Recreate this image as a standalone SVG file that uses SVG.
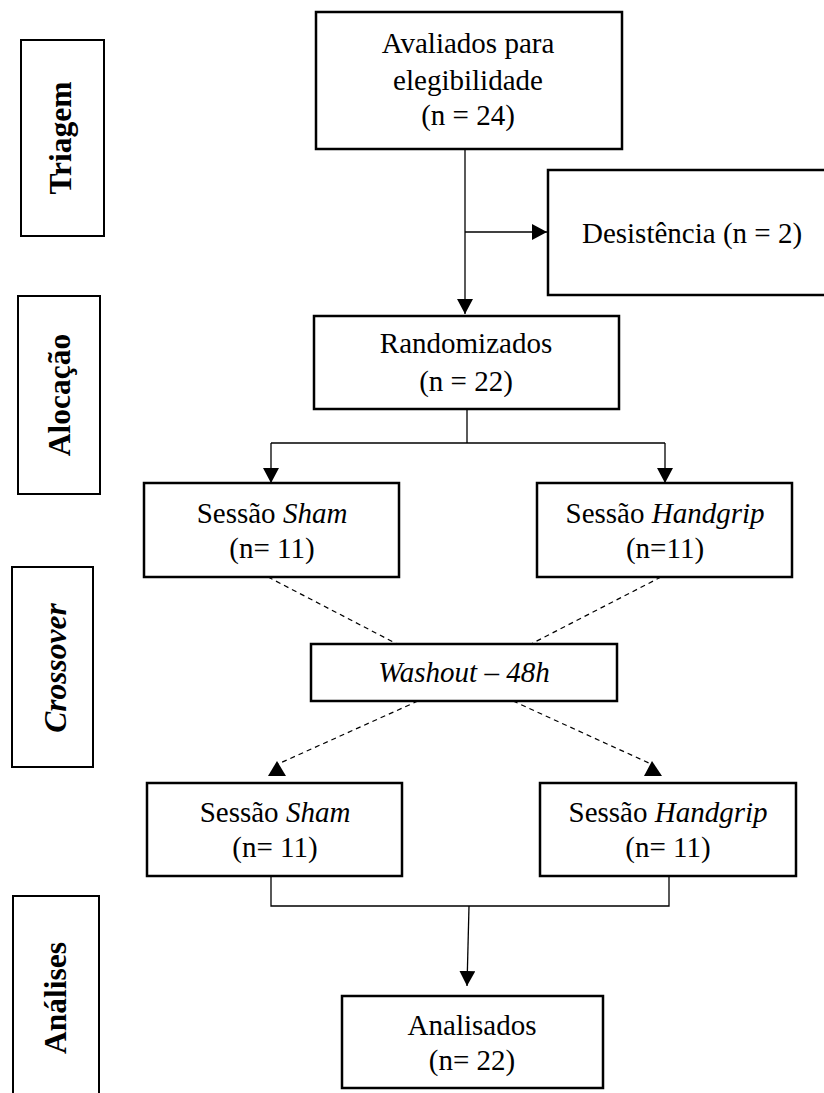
<svg xmlns="http://www.w3.org/2000/svg" width="824" height="1093" viewBox="0 0 824 1093">
<defs>
<style>
.box{fill:#fff;stroke:#000;stroke-width:2.5}
.side{fill:#fff;stroke:#000;stroke-width:2}
.ln{fill:none;stroke:#000;stroke-width:1.3}
.dash{fill:none;stroke:#000;stroke-width:1.2;stroke-dasharray:5 4}
.t{font-family:"Liberation Serif","Times New Roman",serif;font-size:29px;fill:#000;text-anchor:middle}
.s{font-family:"Liberation Serif","Times New Roman",serif;font-size:31.5px;font-weight:bold;fill:#000;text-anchor:middle}
.i{font-style:italic}
</style>
<marker id="ah" markerUnits="userSpaceOnUse" markerWidth="16" markerHeight="16" refX="15" refY="8" orient="auto">
<path d="M0,0 L15,8 L0,16 z" fill="#000"/>
</marker>
</defs>
<rect width="824" height="1093" fill="#fff"/>

<g id="lbl-triagem">
<rect class="side" x="21" y="40" width="83" height="196"/>
<text class="s" transform="translate(71,138) rotate(-90)">Triagem</text>
</g>
<g id="lbl-alocacao">
<rect class="side" x="18" y="296" width="82" height="198"/>
<text class="s" transform="translate(70,395) rotate(-90)">Alocação</text>
</g>
<g id="lbl-crossover">
<rect class="side" x="12" y="567" width="81" height="200"/>
<text class="s i" transform="translate(66,668) rotate(-90)">Crossover</text>
</g>
<g id="lbl-analises">
<rect class="side" x="13" y="896" width="86" height="210"/>
<text class="s" transform="translate(66,998) rotate(-90)">Análises</text>
</g>

<g id="connectors">
<line class="ln" x1="465" y1="150" x2="465" y2="314" marker-end="url(#ah)"/>
<line class="ln" x1="465" y1="232" x2="547" y2="232" marker-end="url(#ah)"/>
<polyline class="ln" points="467,409 467,443"/>
<polyline class="ln" points="271,443 665,443"/>
<line class="ln" x1="271" y1="443" x2="271" y2="483" marker-end="url(#ah)"/>
<line class="ln" x1="665" y1="443" x2="665" y2="483" marker-end="url(#ah)"/>
<line class="dash" x1="268" y1="577" x2="397" y2="644"/>
<line class="dash" x1="661" y1="577" x2="531" y2="644"/>
<line class="dash" x1="418" y1="701" x2="278" y2="764"/>
<polygon points="277,761 268,776 286,776" fill="#000"/>
<line class="dash" x1="513" y1="701" x2="651" y2="764"/>
<polygon points="652,761 644,776 662,776" fill="#000"/>
<polyline class="ln" points="271,876 271,906 669,906 669,876"/>
<line class="ln" x1="469" y1="906" x2="467" y2="986" marker-end="url(#ah)"/>
</g>

<g id="n-avaliados">
<rect class="box" x="316" y="12" width="306" height="137"/>
<text class="t" x="468" y="53">Avaliados para</text>
<text class="t" x="468" y="90">elegibilidade</text>
<text class="t" x="468" y="125">(n = 24)</text>
</g>
<g id="n-desistencia">
<rect class="box" x="548" y="170" width="290" height="125"/>
<text class="t" x="692" y="243">Desistência (n = 2)</text>
</g>
<g id="n-randomizados">
<rect class="box" x="314" y="316" width="305" height="93"/>
<text class="t" x="466" y="353">Randomizados</text>
<text class="t" x="466" y="391">(n = 22)</text>
</g>
<g id="n-sham1">
<rect class="box" x="144" y="483" width="255" height="94"/>
<text class="t" x="272" y="523">Sessão <tspan class="i">Sham</tspan></text>
<text class="t" x="272" y="558">(n= 11)</text>
</g>
<g id="n-handgrip1">
<rect class="box" x="537" y="483" width="255" height="94"/>
<text class="t" x="665" y="523">Sessão <tspan class="i">Handgrip</tspan></text>
<text class="t" x="665" y="558">(n=11)</text>
</g>
<g id="n-washout">
<rect class="box" x="311" y="644" width="306" height="57"/>
<text class="t i" x="464" y="682">Washout – 48h</text>
</g>
<g id="n-sham2">
<rect class="box" x="147" y="783" width="255" height="93"/>
<text class="t" x="275" y="822">Sessão <tspan class="i">Sham</tspan></text>
<text class="t" x="275" y="857">(n= 11)</text>
</g>
<g id="n-handgrip2">
<rect class="box" x="540" y="783" width="256" height="93"/>
<text class="t" x="668" y="822">Sessão <tspan class="i">Handgrip</tspan></text>
<text class="t" x="668" y="857">(n= 11)</text>
</g>
<g id="n-analisados">
<rect class="box" x="342" y="996" width="261" height="92"/>
<text class="t" x="472" y="1035">Analisados</text>
<text class="t" x="472" y="1070">(n= 22)</text>
</g>
</svg>
